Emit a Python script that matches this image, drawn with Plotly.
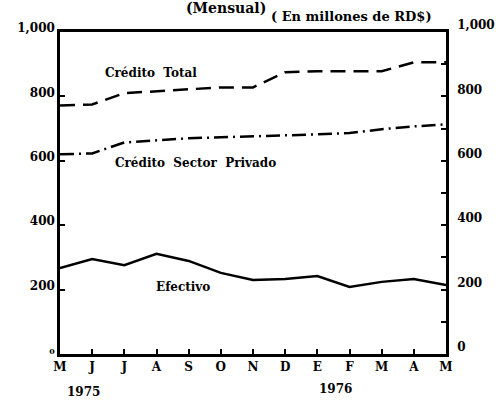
import plotly.graph_objects as go

months = ["M", "J", "J", "A", "S", "O", "N", "D", "E", "F", "M", "A", "M"]
credito_total = [772, 775, 810, 816, 822, 828, 828, 875, 878, 878, 878, 906, 906]
credito_privado = [620, 623, 657, 664, 670, 673, 676, 677, 682, 686, 698, 707, 713]
efectivo = [267, 295, 276, 311, 289, 252, 230, 233, 242, 208, 224, 233, 214]
y_ticks = [0, 200, 400, 600, 800, 1000]
y_ticklabels = ["<span style='font-size:8px'>0</span>", "200", "400", "600", "800", "1,000"]
y_ticklabels_right = ["0", "200", "400", "600", "800", "1,000"]
years = ["1975", "1976"]

x = list(range(len(months)))
FONT = "DejaVu Serif"

fig = go.Figure()
fig.add_trace(go.Scatter(x=x, y=credito_total, mode="lines",
                         line=dict(color="black", width=2.5, dash="15px,8px"), showlegend=False))
fig.add_trace(go.Scatter(x=x, y=credito_privado, mode="lines",
                         line=dict(color="black", width=2.5, dash="14px,5px,2px,5px"), showlegend=False))
fig.add_trace(go.Scatter(x=x, y=efectivo, mode="lines",
                         line=dict(color="black", width=2.5), showlegend=False))
# invisible trace for right axis
fig.add_trace(go.Scatter(x=[0], y=[0], yaxis="y2", mode="markers",
                         marker=dict(opacity=0), showlegend=False, hoverinfo="skip"))

fig.update_layout(
    width=496, height=400,
    margin=dict(l=60, r=50, t=32, b=46, autoexpand=False),
    paper_bgcolor="white", plot_bgcolor="white",
    font=dict(family=FONT, color="black", size=12),
    xaxis=dict(range=[0, 12], tickvals=x, ticktext=months, ticks="inside", ticklen=5,
               tickwidth=2, tickcolor="black", showline=True, linecolor="black", linewidth=2.5,
               mirror=True, showgrid=False, zeroline=False, automargin=False,
               tickfont=dict(family=FONT, size=12, weight="bold")),
    yaxis=dict(range=[0, 1000], tickvals=y_ticks, ticktext=y_ticklabels, ticks="inside",
               ticklen=5, tickwidth=2, tickcolor="black", showline=True, linecolor="black",
               linewidth=2.5, showgrid=False, zeroline=False, ticklabelshift=-4, automargin=False,
               tickfont=dict(family=FONT, size=12, weight="bold")),
    yaxis2=dict(range=[0, 1000], overlaying="y", side="right", tickvals=y_ticks,
                ticktext=y_ticklabels_right, ticks="inside", ticklen=5, tickwidth=2,
                tickcolor="black", showline=True, linecolor="black", linewidth=2.5,
                showgrid=False, zeroline=False, ticklabelshift=-7, ticklabelstandoff=6,
                automargin=False,
                minor=dict(dtick=100, ticks="inside", ticklen=5, tickwidth=2, tickcolor="black"),
                tickfont=dict(family=FONT, size=12, weight="bold")),
)

bold = dict(family=FONT, size=12, color="black", weight="bold")
fig.add_annotation(x=2.83, y=873, xref="x", yref="y", text="Crédito  Total", showarrow=False,
                   font=bold, xanchor="center", yanchor="middle")
fig.add_annotation(x=4.2, y=593, xref="x", yref="y", text="Crédito  Sector  Privado", showarrow=False,
                   font=bold, xanchor="center", yanchor="middle")
fig.add_annotation(x=3.83, y=208, xref="x", yref="y", text="Efectivo", showarrow=False,
                   font=bold, xanchor="center", yanchor="middle")
fig.add_annotation(x=0.72, y=-0.118, xref="x", yref="paper", text=years[0], showarrow=False,
                   font=bold, xanchor="center", yanchor="middle")
fig.add_annotation(x=8.55, y=-0.11, xref="x", yref="paper", text=years[1], showarrow=False,
                   font=bold, xanchor="center", yanchor="middle")
fig.add_annotation(x=0.756, y=1.047, xref="paper", yref="paper", text="( En millones de RD$)",
                   showarrow=False, xanchor="center", yanchor="middle",
                   font=dict(family=FONT, size=13, color="black", weight="bold"))
fig.add_annotation(x=0.43, y=1.076, xref="paper", yref="paper", text="(Mensual)",
                   showarrow=False, xanchor="center", yanchor="middle",
                   font=dict(family=FONT, size=14, color="black", weight="bold"))

fig.write_html("out.html", config={"displayModeBar": False},
               post_script="document.body.style.margin='0';")
